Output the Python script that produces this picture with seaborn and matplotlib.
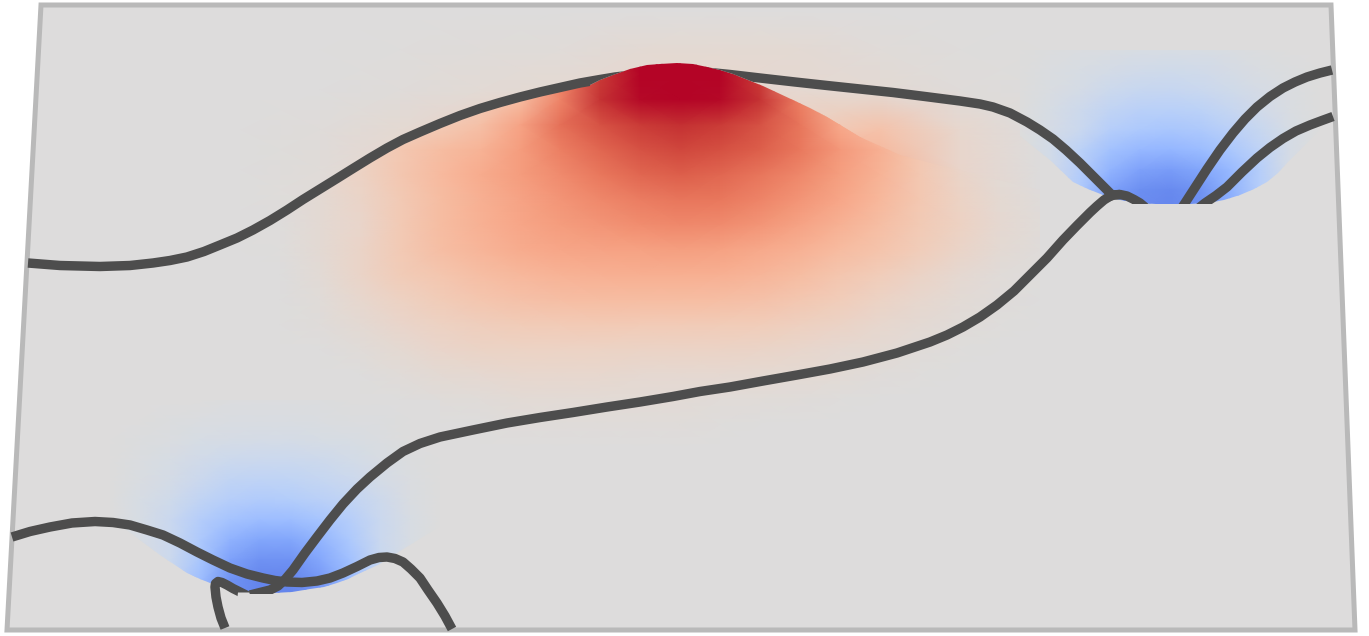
import numpy as np
import pandas as pd
import matplotlib
matplotlib.use('Agg')
import matplotlib.pyplot as plt
from matplotlib.patches import Polygon
import seaborn as sns

W, H = 1369, 636

# surface outline
frame_x = [41, 1331, 1355, 7]
frame_y = [5, 5, 630, 630]

# field values in percent of the colour range
bump_xs = list(range(240, 1041, 40))
bump_ys = list(range(50, 451, 25))
bump_vals = [
    [0, 0, 0, 0, 0, 0, 0, 10, 60, 90, 100, 100, 100, 90, 40, 10, 4, 0, 0, 0, 0],
    [0, 0, 0, 0, 0, 2, 6, 20, 60, 88, 100, 100, 100, 88, 30, 15, 10, 4, 0, 0, 0],
    [0, 0, 0, 2, 4, 10, 18, 30, 60, 90, 99, 100, 99, 90, 62, 34, 20, 9, 3, 0, 0],
    [0, 0, 2, 7, 15, 20, 28, 45, 68, 80, 88, 91, 88, 80, 66, 42, 28, 12, 5, 1, 0],
    [0, 1, 6, 14, 22, 30, 36, 48, 62, 72, 80, 84, 81, 75, 65, 50, 38, 22, 9, 2, 0],
    [0, 2, 6, 13, 23, 32, 40, 48, 57, 65, 72, 75, 72, 66, 58, 47, 36, 22, 11, 4, 1],
    [0, 2, 5, 11, 21, 30, 38, 45, 52, 58, 63, 66, 65, 60, 52, 43, 33, 22, 13, 6, 2],
    [0, 1, 5, 10, 21, 30, 37, 43, 48, 52, 56, 58, 57, 52, 45, 37, 29, 21, 14, 7, 3],
    [0, 1, 5, 11, 21, 29, 35, 40, 43, 45, 46, 47, 46, 42, 37, 31, 25, 18, 11, 5, 2],
    [0, 0, 4, 11, 19, 24, 29, 33, 36, 38, 39, 39, 38, 35, 30, 24, 18, 12, 7, 3, 1],
    [0, 0, 3, 8, 14, 19, 24, 27, 29, 30, 30, 30, 29, 27, 23, 18, 13, 8, 4, 2, 0],
    [0, 0, 2, 5, 10, 14, 17, 19, 20, 21, 20, 20, 19, 18, 15, 12, 8, 5, 3, 1, 0],
    [0, 0, 0, 3, 6, 10, 12, 13, 13, 13, 12, 12, 12, 11, 9, 7, 5, 3, 1, 0, 0],
    [0, 0, 0, 0, 3, 5, 7, 8, 8, 8, 7, 7, 7, 6, 5, 4, 2, 1, 0, 0, 0],
    [0, 0, 0, 0, 0, 2, 3, 4, 4, 4, 4, 4, 3, 3, 2, 1, 0, 0, 0, 0, 0],
    [0, 0, 0, 0, 0, 0, 0, 2, 2, 2, 2, 2, 1, 0, 0, 0, 0, 0, 0, 0, 0],
    [0, 0, 0, 0, 0, 0, 0, 0, 0, 0, 0, 0, 0, 0, 0, 0, 0, 0, 0, 0, 0],
]

halo_xs = list(range(240, 1041, 80))
halo_ys = [10, 50, 90, 130, 170, 210]
halo_vals = [
    [0, 0, 0, 0, 0, 0, 0, 0, 0, 0, 0],
    [0, 0, 1, 2, 3, 5, 6, 5, 3, 1, 0],
    [0, 0, 2, 4, 6, 8, 8, 7, 5, 2, 0],
    [0, 2, 6, 12, 20, 20, 18, 16, 26, 8, 0],
    [0, 3, 8, 15, 20, 20, 20, 50, 36, 10, 0],
    [0, 3, 8, 15, 20, 20, 20, 50, 36, 12, 0],
]

right_xs = list(range(1020, 1321, 30))
right_ys = list(range(50, 211, 20))
right_vals = [
    [0, -1, -2, -3, -4, -4, -4, -3, -1, 0, 0],
    [0, -2, -4, -7, -9, -10, -9, -6, -3, -1, 0],
    [0, -3, -7, -12, -15, -16, -14, -10, -6, -2, 0],
    [0, -5, -11, -19, -24, -25, -22, -16, -9, -3, 0],
    [0, -6, -14, -26, -32, -34, -31, -24, -15, -5, 0],
    [0, -8, -22, -37, -44, -46, -42, -33, -21, -6, 0],
    [0, -9, -27, -47, -58, -61, -56, -43, -26, -5, 0],
    [0, -8, -30, -58, -68, -71, -66, -50, -26, -5, 0],
    [0, -8, -32, -60, -70, -73, -68, -52, -27, -5, 0],
]

left_xs = list(range(110, 441, 30))
left_ys = list(range(400, 601, 20))
left_vals = [
    [0, 0, 0, 0, -1, -1, -1, -1, 0, 0, 0, 0],
    [0, 0, -1, -2, -3, -3, -3, -2, -1, -1, 0, 0],
    [0, -1, -2, -5, -6, -7, -7, -5, -4, -2, 0, 0],
    [0, -2, -5, -9, -12, -13, -13, -11, -8, -4, -1, 0],
    [0, -3, -7, -13, -19, -21, -20, -17, -13, -7, -2, 0],
    [0, -5, -10, -19, -26, -29, -28, -24, -19, -11, -3, 0],
    [0, -5, -14, -27, -36, -41, -41, -35, -26, -14, -4, 0],
    [0, -4, -13, -31, -48, -56, -56, -47, -32, -14, -4, 0],
    [0, -3, -12, -34, -58, -67, -67, -55, -38, -15, -3, 0],
    [0, -2, -14, -40, -66, -73, -73, -64, -42, -15, -3, 0],
    [0, -2, -14, -40, -66, -73, -73, -64, -42, -15, -3, 0],
]

# outline of the raised top, shared by its field and the curve that runs behind it
dome_left = [(590, 85), (600, 80), (613, 75), (630, 69), (647, 65), (660, 63.5), (677, 63)]
dome_right = [(693, 64), (707, 67), (720, 70), (733, 74), (748, 80), (763, 86), (778, 93), (793, 100)]

# edges where the raised / sunken parts hide what is behind them
bump_edge = [(240, 235), (303, 199), (353, 168), (420, 132), (480, 108), (540, 92), (575, 86)] \
    + dome_left + dome_right \
    + [(810, 108), (827, 117), (860, 137), (900, 155), (950, 168), (1040, 190), (1040, 450), (240, 450)]
right_edge = [(1000, 30), (1330, 30), (1330, 120), (1287, 163), (1278, 173), (1267, 182), (1254, 189),
              (1240, 195), (1224, 200), (1207, 203), (1190, 204), (1173, 204), (1156, 204), (1140, 203),
              (1120, 200), (1103, 195), (1088, 189), (1073, 182), (1050, 160), (1000, 120)]
left_edge = [(100, 400), (450, 400), (450, 520), (397, 553), (378, 565), (360, 573), (348, 579), (337, 583),
             (324, 587), (310, 589), (292, 592), (273, 593), (256, 592), (240, 590), (225, 587), (210, 583),
             (198, 578), (187, 573), (160, 555), (100, 510)]

# dark curves on the surface
a1_x = [28, 60, 100, 130, 153, 170, 187, 204, 220, 237, 253, 270, 287, 303, 320, 337, 353, 370, 387,
        403, 420, 440, 460, 480, 500, 520, 540, 560, 580, 600, 615, 640]
a1_y = [263, 265.5, 266.5, 265.5, 263, 260.5, 257, 251.5, 245, 238, 230, 220.5, 210, 199.5, 189, 178.5, 168.5,
        158, 148, 139.5, 132, 123.5, 115.5, 108.5, 102.5, 97, 92, 87.5, 83, 79.5, 77, 74]
a2_x = [700, 730, 760, 795, 827, 860, 893, 925, 960, 980, 993, 1010, 1027, 1040, 1053, 1066, 1080, 1096, 1112]
a2_y = [71.5, 74.5, 78, 82, 85.5, 89, 92.5, 96.5, 101, 104, 107, 113, 122, 130, 139, 150, 163, 179, 195]
hook_x = [1108, 1114, 1120, 1127, 1134, 1140, 1146]
hook_y = [197, 195, 194.5, 196, 199.5, 203, 208]
b_x = [1120, 1112, 1104, 1097, 1090, 1077, 1063, 1047, 1030, 1014, 997, 980, 963, 947, 930,
       897, 863, 830, 797, 763, 730, 700, 673, 640, 607, 573, 540, 507, 473, 440, 420, 403, 387, 370,
       357, 343, 330, 317, 305, 293, 285, 278, 270, 260, 250]
b_y = [194.5, 195, 200, 206, 212.5, 225.5, 240, 258, 275, 291, 305, 317, 327, 335, 342,
       353, 362, 369, 375, 381, 387, 391.5, 396.5, 402, 407, 412.5, 417.5, 423, 430, 437, 443.5, 451.5, 463, 477,
       489, 504, 520, 537, 553, 570, 579.5, 586, 590, 592.5, 595]
c_x = [12, 30, 50, 72, 95, 113, 130, 147, 163, 180, 197, 213, 230, 247, 263, 275, 287, 302, 317, 330,
       343, 357, 370, 379, 387, 395, 403, 411, 420, 428, 437, 445, 452]
c_y = [537, 531.5, 527, 523, 521.5, 522.5, 525, 530, 535, 543, 552, 560, 568, 574, 578, 580.5, 582, 582.5,
       581, 578, 573, 566.5, 560, 557.5, 557, 558.5, 562, 569, 578, 590, 603, 616, 629]
d_x = [225, 221, 218, 216, 215, 215.5, 218, 222, 227, 233, 240, 250]
d_y = [628, 618, 607, 597, 587, 583.5, 581.5, 582.5, 585, 588.5, 592, 597]
e_x = [1177, 1185, 1196, 1207, 1220, 1233, 1245, 1257, 1270, 1283, 1295, 1307, 1320, 1332]
e_y = [215, 203, 186, 169, 150, 133, 119, 107, 96.5, 88, 82, 77, 73, 70]
f_x = [1195, 1205, 1216, 1227, 1242, 1257, 1270, 1283, 1296, 1310, 1322, 1333]
f_y = [211, 203, 195.5, 187, 172, 158, 147.5, 138.5, 131, 125, 120.5, 116.5]

# each curve with the region it stays inside (None = whole surface)
above_right_arc = [(1000, 0), (1369, 0), (1369, 204), (1000, 204)]
above_left_arc = [(0, 0), (1369, 0), (1369, 593.5), (0, 593.5)]
curves = [
    (a1_x, a1_y, [(0, 0), (677, 0)] + dome_left[::-1] + [(590, 636), (0, 636)]),
    (a2_x, a2_y, [(1369, 0), (677, 0)] + dome_right + [(793, 636), (1369, 636)]),
    (hook_x, hook_y, above_right_arc),
    (b_x, b_y, above_left_arc),
    (c_x, c_y, None),
    (d_x, d_y, [(150, 560), (300, 560), (300, 592.5), (238, 592.5), (232, 640), (150, 640)]),
    (e_x, e_y, above_right_arc),
    (f_x, f_y, above_right_arc),
]

fig = plt.figure(figsize=(W / 100, H / 100), dpi=100)

base = fig.add_axes([0, 0, 1, 1], zorder=0)
base.set(xlim=(0, W), ylim=(H, 0))
base.axis('off')
# same grey as the middle of the colour map, so the field edges do not show
base.fill(frame_x, frame_y, color=plt.get_cmap('coolwarm')(0.5), lw=0)


def draw_field(vals, xs, ys, edge=None, z=1):
    # gouraud mesh spanning exactly the grid given by xs / ys
    left, bottom = xs[0] / W, 1 - ys[-1] / H
    ax = fig.add_axes([left, bottom, (xs[-1] - xs[0]) / W, (ys[-1] - ys[0]) / H], zorder=z)
    ax.patch.set_visible(False)
    frame = pd.DataFrame(np.array(vals) / 100, index=ys, columns=xs)
    sns.heatmap(frame, ax=ax, cmap='coolwarm', vmin=-1, vmax=1, cbar=False,
                xticklabels=False, yticklabels=False, shading='gouraud')
    ax.set(xlim=(0, len(xs) - 1), ylim=(len(ys) - 1, 0), xlabel='', ylabel='')
    ax.axis('off')
    if edge is not None:
        clip = Polygon(edge, closed=True, transform=base.transData)
        ax.collections[0].set_clip_path(clip)


draw_field(halo_vals, halo_xs, halo_ys, z=1)
draw_field(bump_vals, bump_xs, bump_ys, edge=bump_edge, z=2)
draw_field(right_vals, right_xs, right_ys, edge=right_edge, z=2)
draw_field(left_vals, left_xs, left_ys, edge=left_edge, z=2)

top = fig.add_axes([0, 0, 1, 1], zorder=5)
top.patch.set_visible(False)
top.set(xlim=(0, W), ylim=(H, 0))
for cx, cy, keep in curves:
    sns.lineplot(x=cx, y=cy, sort=False, estimator=None, color='#4d4d4d', lw=6.8,
                 solid_capstyle='butt', ax=top)
    if keep is not None:
        top.get_lines()[-1].set_clip_path(Polygon(keep, closed=True, transform=top.transData))
top.add_patch(Polygon(list(zip(frame_x, frame_y)), closed=True, fill=False,
                      edgecolor='#b9b9b9', lw=3.6, joinstyle='miter'))
top.axis('off')

fig.savefig('out.png', dpi=100)
